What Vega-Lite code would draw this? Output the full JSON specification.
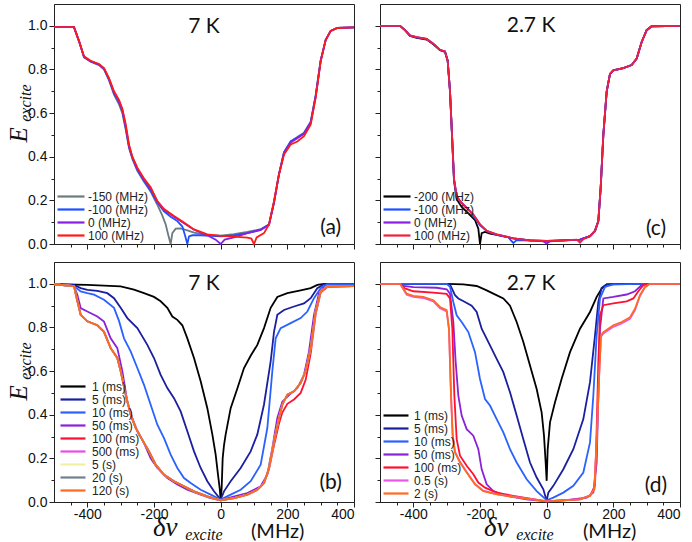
{
"$schema":"https://vega.github.io/schema/vega-lite/v6.json",
"padding":{"left":6,"top":3,"right":8,"bottom":0},
"config":{"view":{"stroke":"#222","strokeWidth":1},"axis":{"tickWidth":1,"domainWidth":1}},
"datasets":{
"a":[
{"s":"-150 (MHz)","x":-500,"y":0.994},{"s":"-150 (MHz)","x":-440,"y":0.994},{"s":"-150 (MHz)","x":-425,"y":0.93},{"s":"-150 (MHz)","x":-410,"y":0.855},{"s":"-150 (MHz)","x":-390,"y":0.835},{"s":"-150 (MHz)","x":-365,"y":0.82},{"s":"-150 (MHz)","x":-350,"y":0.8},{"s":"-150 (MHz)","x":-335,"y":0.75},{"s":"-150 (MHz)","x":-320,"y":0.685},{"s":"-150 (MHz)","x":-305,"y":0.64},{"s":"-150 (MHz)","x":-295,"y":0.6},{"s":"-150 (MHz)","x":-285,"y":0.525},{"s":"-150 (MHz)","x":-275,"y":0.44},{"s":"-150 (MHz)","x":-265,"y":0.39},{"s":"-150 (MHz)","x":-250,"y":0.335},{"s":"-150 (MHz)","x":-230,"y":0.285},{"s":"-150 (MHz)","x":-210,"y":0.24},{"s":"-150 (MHz)","x":-190,"y":0.18},{"s":"-150 (MHz)","x":-175,"y":0.13},{"s":"-150 (MHz)","x":-165,"y":0.09},{"s":"-150 (MHz)","x":-157,"y":0.04},{"s":"-150 (MHz)","x":-150,"y":0.0},{"s":"-150 (MHz)","x":-145,"y":0.05},{"s":"-150 (MHz)","x":-135,"y":0.07},{"s":"-150 (MHz)","x":-120,"y":0.072},{"s":"-150 (MHz)","x":-100,"y":0.062},{"s":"-150 (MHz)","x":-80,"y":0.052},{"s":"-150 (MHz)","x":-40,"y":0.042},{"s":"-150 (MHz)","x":0,"y":0.038},{"s":"-150 (MHz)","x":40,"y":0.045},{"s":"-150 (MHz)","x":80,"y":0.055},{"s":"-150 (MHz)","x":120,"y":0.068},{"s":"-150 (MHz)","x":145,"y":0.09},{"s":"-150 (MHz)","x":160,"y":0.19},{"s":"-150 (MHz)","x":175,"y":0.32},{"s":"-150 (MHz)","x":190,"y":0.42},{"s":"-150 (MHz)","x":210,"y":0.47},{"s":"-150 (MHz)","x":230,"y":0.49},{"s":"-150 (MHz)","x":250,"y":0.51},{"s":"-150 (MHz)","x":270,"y":0.56},{"s":"-150 (MHz)","x":285,"y":0.68},{"s":"-150 (MHz)","x":300,"y":0.84},{"s":"-150 (MHz)","x":315,"y":0.935},{"s":"-150 (MHz)","x":330,"y":0.977},{"s":"-150 (MHz)","x":350,"y":0.99},{"s":"-150 (MHz)","x":400,"y":0.993},
{"s":"-100 (MHz)","x":-500,"y":0.994},{"s":"-100 (MHz)","x":-440,"y":0.994},{"s":"-100 (MHz)","x":-425,"y":0.93},{"s":"-100 (MHz)","x":-410,"y":0.857},{"s":"-100 (MHz)","x":-390,"y":0.837},{"s":"-100 (MHz)","x":-365,"y":0.822},{"s":"-100 (MHz)","x":-350,"y":0.803},{"s":"-100 (MHz)","x":-335,"y":0.755},{"s":"-100 (MHz)","x":-320,"y":0.69},{"s":"-100 (MHz)","x":-305,"y":0.65},{"s":"-100 (MHz)","x":-295,"y":0.61},{"s":"-100 (MHz)","x":-285,"y":0.535},{"s":"-100 (MHz)","x":-275,"y":0.445},{"s":"-100 (MHz)","x":-265,"y":0.395},{"s":"-100 (MHz)","x":-250,"y":0.34},{"s":"-100 (MHz)","x":-230,"y":0.29},{"s":"-100 (MHz)","x":-210,"y":0.245},{"s":"-100 (MHz)","x":-190,"y":0.19},{"s":"-100 (MHz)","x":-170,"y":0.15},{"s":"-100 (MHz)","x":-150,"y":0.125},{"s":"-100 (MHz)","x":-130,"y":0.105},{"s":"-100 (MHz)","x":-115,"y":0.08},{"s":"-100 (MHz)","x":-107,"y":0.04},{"s":"-100 (MHz)","x":-100,"y":0.0},{"s":"-100 (MHz)","x":-95,"y":0.035},{"s":"-100 (MHz)","x":-85,"y":0.04},{"s":"-100 (MHz)","x":-60,"y":0.04},{"s":"-100 (MHz)","x":-30,"y":0.037},{"s":"-100 (MHz)","x":0,"y":0.035},{"s":"-100 (MHz)","x":40,"y":0.04},{"s":"-100 (MHz)","x":80,"y":0.05},{"s":"-100 (MHz)","x":120,"y":0.065},{"s":"-100 (MHz)","x":145,"y":0.088},{"s":"-100 (MHz)","x":160,"y":0.19},{"s":"-100 (MHz)","x":175,"y":0.32},{"s":"-100 (MHz)","x":190,"y":0.42},{"s":"-100 (MHz)","x":210,"y":0.47},{"s":"-100 (MHz)","x":230,"y":0.488},{"s":"-100 (MHz)","x":250,"y":0.508},{"s":"-100 (MHz)","x":270,"y":0.558},{"s":"-100 (MHz)","x":285,"y":0.68},{"s":"-100 (MHz)","x":300,"y":0.84},{"s":"-100 (MHz)","x":315,"y":0.935},{"s":"-100 (MHz)","x":330,"y":0.977},{"s":"-100 (MHz)","x":350,"y":0.99},{"s":"-100 (MHz)","x":400,"y":0.993},
{"s":"0 (MHz)","x":-500,"y":0.994},{"s":"0 (MHz)","x":-440,"y":0.994},{"s":"0 (MHz)","x":-425,"y":0.93},{"s":"0 (MHz)","x":-410,"y":0.858},{"s":"0 (MHz)","x":-390,"y":0.838},{"s":"0 (MHz)","x":-365,"y":0.823},{"s":"0 (MHz)","x":-350,"y":0.804},{"s":"0 (MHz)","x":-335,"y":0.757},{"s":"0 (MHz)","x":-320,"y":0.695},{"s":"0 (MHz)","x":-305,"y":0.655},{"s":"0 (MHz)","x":-295,"y":0.615},{"s":"0 (MHz)","x":-285,"y":0.54},{"s":"0 (MHz)","x":-275,"y":0.45},{"s":"0 (MHz)","x":-265,"y":0.398},{"s":"0 (MHz)","x":-250,"y":0.345},{"s":"0 (MHz)","x":-230,"y":0.295},{"s":"0 (MHz)","x":-210,"y":0.255},{"s":"0 (MHz)","x":-190,"y":0.195},{"s":"0 (MHz)","x":-170,"y":0.158},{"s":"0 (MHz)","x":-140,"y":0.125},{"s":"0 (MHz)","x":-110,"y":0.095},{"s":"0 (MHz)","x":-80,"y":0.065},{"s":"0 (MHz)","x":-40,"y":0.04},{"s":"0 (MHz)","x":-15,"y":0.02},{"s":"0 (MHz)","x":0,"y":0.0},{"s":"0 (MHz)","x":12,"y":0.02},{"s":"0 (MHz)","x":40,"y":0.03},{"s":"0 (MHz)","x":80,"y":0.05},{"s":"0 (MHz)","x":120,"y":0.065},{"s":"0 (MHz)","x":145,"y":0.088},{"s":"0 (MHz)","x":160,"y":0.19},{"s":"0 (MHz)","x":175,"y":0.32},{"s":"0 (MHz)","x":190,"y":0.415},{"s":"0 (MHz)","x":210,"y":0.465},{"s":"0 (MHz)","x":230,"y":0.485},{"s":"0 (MHz)","x":250,"y":0.505},{"s":"0 (MHz)","x":270,"y":0.555},{"s":"0 (MHz)","x":285,"y":0.675},{"s":"0 (MHz)","x":300,"y":0.84},{"s":"0 (MHz)","x":315,"y":0.935},{"s":"0 (MHz)","x":330,"y":0.977},{"s":"0 (MHz)","x":350,"y":0.99},{"s":"0 (MHz)","x":400,"y":0.993},
{"s":"100 (MHz)","x":-500,"y":0.994},{"s":"100 (MHz)","x":-440,"y":0.994},{"s":"100 (MHz)","x":-425,"y":0.93},{"s":"100 (MHz)","x":-410,"y":0.86},{"s":"100 (MHz)","x":-390,"y":0.84},{"s":"100 (MHz)","x":-365,"y":0.825},{"s":"100 (MHz)","x":-350,"y":0.806},{"s":"100 (MHz)","x":-335,"y":0.76},{"s":"100 (MHz)","x":-320,"y":0.7},{"s":"100 (MHz)","x":-305,"y":0.66},{"s":"100 (MHz)","x":-295,"y":0.62},{"s":"100 (MHz)","x":-285,"y":0.55},{"s":"100 (MHz)","x":-275,"y":0.456},{"s":"100 (MHz)","x":-265,"y":0.4},{"s":"100 (MHz)","x":-250,"y":0.35},{"s":"100 (MHz)","x":-230,"y":0.3},{"s":"100 (MHz)","x":-210,"y":0.26},{"s":"100 (MHz)","x":-190,"y":0.197},{"s":"100 (MHz)","x":-170,"y":0.16},{"s":"100 (MHz)","x":-140,"y":0.128},{"s":"100 (MHz)","x":-110,"y":0.098},{"s":"100 (MHz)","x":-80,"y":0.067},{"s":"100 (MHz)","x":-40,"y":0.044},{"s":"100 (MHz)","x":0,"y":0.037},{"s":"100 (MHz)","x":40,"y":0.034},{"s":"100 (MHz)","x":80,"y":0.029},{"s":"100 (MHz)","x":92,"y":0.025},{"s":"100 (MHz)","x":100,"y":0.0},{"s":"100 (MHz)","x":108,"y":0.03},{"s":"100 (MHz)","x":130,"y":0.05},{"s":"100 (MHz)","x":145,"y":0.09},{"s":"100 (MHz)","x":160,"y":0.197},{"s":"100 (MHz)","x":175,"y":0.32},{"s":"100 (MHz)","x":190,"y":0.41},{"s":"100 (MHz)","x":210,"y":0.456},{"s":"100 (MHz)","x":230,"y":0.47},{"s":"100 (MHz)","x":250,"y":0.494},{"s":"100 (MHz)","x":270,"y":0.547},{"s":"100 (MHz)","x":285,"y":0.67},{"s":"100 (MHz)","x":300,"y":0.837},{"s":"100 (MHz)","x":315,"y":0.936},{"s":"100 (MHz)","x":330,"y":0.977},{"s":"100 (MHz)","x":350,"y":0.99},{"s":"100 (MHz)","x":400,"y":0.993}
],
"c":[
{"s":"-200 (MHz)","x":-500,"y":1.0},{"s":"-200 (MHz)","x":-440,"y":1.0},{"s":"-200 (MHz)","x":-425,"y":0.98},{"s":"-200 (MHz)","x":-410,"y":0.954},{"s":"-200 (MHz)","x":-390,"y":0.945},{"s":"-200 (MHz)","x":-360,"y":0.937},{"s":"-200 (MHz)","x":-340,"y":0.915},{"s":"-200 (MHz)","x":-320,"y":0.888},{"s":"-200 (MHz)","x":-305,"y":0.88},{"s":"-200 (MHz)","x":-297,"y":0.84},{"s":"-200 (MHz)","x":-290,"y":0.7},{"s":"-200 (MHz)","x":-284,"y":0.5},{"s":"-200 (MHz)","x":-278,"y":0.29},{"s":"-200 (MHz)","x":-270,"y":0.205},{"s":"-200 (MHz)","x":-255,"y":0.17},{"s":"-200 (MHz)","x":-235,"y":0.14},{"s":"-200 (MHz)","x":-215,"y":0.11},{"s":"-200 (MHz)","x":-205,"y":0.07},{"s":"-200 (MHz)","x":-200,"y":0.0},{"s":"-200 (MHz)","x":-195,"y":0.05},{"s":"-200 (MHz)","x":-185,"y":0.055},{"s":"-200 (MHz)","x":-170,"y":0.048},{"s":"-200 (MHz)","x":-150,"y":0.042},{"s":"-200 (MHz)","x":-100,"y":0.026},{"s":"-200 (MHz)","x":-50,"y":0.017},{"s":"-200 (MHz)","x":0,"y":0.014},{"s":"-200 (MHz)","x":50,"y":0.017},{"s":"-200 (MHz)","x":100,"y":0.02},{"s":"-200 (MHz)","x":130,"y":0.036},{"s":"-200 (MHz)","x":145,"y":0.06},{"s":"-200 (MHz)","x":155,"y":0.105},{"s":"-200 (MHz)","x":162,"y":0.257},{"s":"-200 (MHz)","x":170,"y":0.5},{"s":"-200 (MHz)","x":180,"y":0.698},{"s":"-200 (MHz)","x":190,"y":0.78},{"s":"-200 (MHz)","x":200,"y":0.796},{"s":"-200 (MHz)","x":230,"y":0.806},{"s":"-200 (MHz)","x":255,"y":0.82},{"s":"-200 (MHz)","x":270,"y":0.85},{"s":"-200 (MHz)","x":285,"y":0.926},{"s":"-200 (MHz)","x":300,"y":0.98},{"s":"-200 (MHz)","x":315,"y":0.998},{"s":"-200 (MHz)","x":400,"y":1.0},
{"s":"-100 (MHz)","x":-500,"y":1.0},{"s":"-100 (MHz)","x":-440,"y":1.0},{"s":"-100 (MHz)","x":-425,"y":0.98},{"s":"-100 (MHz)","x":-410,"y":0.955},{"s":"-100 (MHz)","x":-390,"y":0.947},{"s":"-100 (MHz)","x":-360,"y":0.939},{"s":"-100 (MHz)","x":-340,"y":0.917},{"s":"-100 (MHz)","x":-320,"y":0.889},{"s":"-100 (MHz)","x":-305,"y":0.882},{"s":"-100 (MHz)","x":-297,"y":0.84},{"s":"-100 (MHz)","x":-290,"y":0.7},{"s":"-100 (MHz)","x":-284,"y":0.5},{"s":"-100 (MHz)","x":-278,"y":0.295},{"s":"-100 (MHz)","x":-270,"y":0.215},{"s":"-100 (MHz)","x":-250,"y":0.18},{"s":"-100 (MHz)","x":-230,"y":0.15},{"s":"-100 (MHz)","x":-200,"y":0.085},{"s":"-100 (MHz)","x":-175,"y":0.055},{"s":"-100 (MHz)","x":-150,"y":0.042},{"s":"-100 (MHz)","x":-115,"y":0.03},{"s":"-100 (MHz)","x":-100,"y":0.005},{"s":"-100 (MHz)","x":-90,"y":0.018},{"s":"-100 (MHz)","x":-50,"y":0.016},{"s":"-100 (MHz)","x":0,"y":0.013},{"s":"-100 (MHz)","x":50,"y":0.016},{"s":"-100 (MHz)","x":100,"y":0.02},{"s":"-100 (MHz)","x":130,"y":0.036},{"s":"-100 (MHz)","x":145,"y":0.06},{"s":"-100 (MHz)","x":155,"y":0.105},{"s":"-100 (MHz)","x":162,"y":0.257},{"s":"-100 (MHz)","x":170,"y":0.5},{"s":"-100 (MHz)","x":180,"y":0.698},{"s":"-100 (MHz)","x":190,"y":0.78},{"s":"-100 (MHz)","x":200,"y":0.796},{"s":"-100 (MHz)","x":230,"y":0.806},{"s":"-100 (MHz)","x":255,"y":0.82},{"s":"-100 (MHz)","x":270,"y":0.85},{"s":"-100 (MHz)","x":285,"y":0.926},{"s":"-100 (MHz)","x":300,"y":0.98},{"s":"-100 (MHz)","x":315,"y":0.998},{"s":"-100 (MHz)","x":400,"y":1.0},
{"s":"0 (MHz)","x":-500,"y":1.0},{"s":"0 (MHz)","x":-440,"y":1.0},{"s":"0 (MHz)","x":-425,"y":0.98},{"s":"0 (MHz)","x":-410,"y":0.956},{"s":"0 (MHz)","x":-390,"y":0.948},{"s":"0 (MHz)","x":-360,"y":0.94},{"s":"0 (MHz)","x":-340,"y":0.918},{"s":"0 (MHz)","x":-320,"y":0.89},{"s":"0 (MHz)","x":-305,"y":0.883},{"s":"0 (MHz)","x":-297,"y":0.84},{"s":"0 (MHz)","x":-290,"y":0.7},{"s":"0 (MHz)","x":-284,"y":0.5},{"s":"0 (MHz)","x":-278,"y":0.3},{"s":"0 (MHz)","x":-270,"y":0.22},{"s":"0 (MHz)","x":-260,"y":0.196},{"s":"0 (MHz)","x":-240,"y":0.166},{"s":"0 (MHz)","x":-220,"y":0.135},{"s":"0 (MHz)","x":-200,"y":0.09},{"s":"0 (MHz)","x":-180,"y":0.06},{"s":"0 (MHz)","x":-150,"y":0.044},{"s":"0 (MHz)","x":-100,"y":0.026},{"s":"0 (MHz)","x":-50,"y":0.017},{"s":"0 (MHz)","x":-10,"y":0.012},{"s":"0 (MHz)","x":0,"y":0.003},{"s":"0 (MHz)","x":10,"y":0.012},{"s":"0 (MHz)","x":50,"y":0.017},{"s":"0 (MHz)","x":100,"y":0.02},{"s":"0 (MHz)","x":130,"y":0.036},{"s":"0 (MHz)","x":145,"y":0.06},{"s":"0 (MHz)","x":155,"y":0.105},{"s":"0 (MHz)","x":162,"y":0.257},{"s":"0 (MHz)","x":170,"y":0.5},{"s":"0 (MHz)","x":180,"y":0.698},{"s":"0 (MHz)","x":190,"y":0.78},{"s":"0 (MHz)","x":200,"y":0.796},{"s":"0 (MHz)","x":230,"y":0.806},{"s":"0 (MHz)","x":255,"y":0.82},{"s":"0 (MHz)","x":270,"y":0.85},{"s":"0 (MHz)","x":285,"y":0.926},{"s":"0 (MHz)","x":300,"y":0.98},{"s":"0 (MHz)","x":315,"y":0.998},{"s":"0 (MHz)","x":400,"y":1.0},
{"s":"100 (MHz)","x":-500,"y":1.0},{"s":"100 (MHz)","x":-440,"y":1.0},{"s":"100 (MHz)","x":-425,"y":0.98},{"s":"100 (MHz)","x":-410,"y":0.956},{"s":"100 (MHz)","x":-390,"y":0.948},{"s":"100 (MHz)","x":-360,"y":0.94},{"s":"100 (MHz)","x":-340,"y":0.918},{"s":"100 (MHz)","x":-320,"y":0.89},{"s":"100 (MHz)","x":-305,"y":0.883},{"s":"100 (MHz)","x":-297,"y":0.84},{"s":"100 (MHz)","x":-290,"y":0.7},{"s":"100 (MHz)","x":-284,"y":0.5},{"s":"100 (MHz)","x":-278,"y":0.3},{"s":"100 (MHz)","x":-270,"y":0.22},{"s":"100 (MHz)","x":-260,"y":0.196},{"s":"100 (MHz)","x":-240,"y":0.166},{"s":"100 (MHz)","x":-220,"y":0.135},{"s":"100 (MHz)","x":-200,"y":0.09},{"s":"100 (MHz)","x":-180,"y":0.06},{"s":"100 (MHz)","x":-150,"y":0.044},{"s":"100 (MHz)","x":-100,"y":0.026},{"s":"100 (MHz)","x":-50,"y":0.017},{"s":"100 (MHz)","x":0,"y":0.014},{"s":"100 (MHz)","x":50,"y":0.017},{"s":"100 (MHz)","x":90,"y":0.02},{"s":"100 (MHz)","x":100,"y":0.006},{"s":"100 (MHz)","x":110,"y":0.022},{"s":"100 (MHz)","x":130,"y":0.036},{"s":"100 (MHz)","x":145,"y":0.06},{"s":"100 (MHz)","x":155,"y":0.105},{"s":"100 (MHz)","x":162,"y":0.257},{"s":"100 (MHz)","x":170,"y":0.5},{"s":"100 (MHz)","x":180,"y":0.698},{"s":"100 (MHz)","x":190,"y":0.78},{"s":"100 (MHz)","x":200,"y":0.796},{"s":"100 (MHz)","x":230,"y":0.806},{"s":"100 (MHz)","x":255,"y":0.82},{"s":"100 (MHz)","x":270,"y":0.85},{"s":"100 (MHz)","x":285,"y":0.926},{"s":"100 (MHz)","x":300,"y":0.98},{"s":"100 (MHz)","x":315,"y":0.998},{"s":"100 (MHz)","x":400,"y":1.0}
],
"b":[
{"s":"1 (ms)","x":-500,"y":0.998},{"s":"1 (ms)","x":-400,"y":0.995},{"s":"1 (ms)","x":-350,"y":0.992},{"s":"1 (ms)","x":-300,"y":0.988},{"s":"1 (ms)","x":-260,"y":0.973},{"s":"1 (ms)","x":-230,"y":0.957},{"s":"1 (ms)","x":-200,"y":0.94},{"s":"1 (ms)","x":-180,"y":0.92},{"s":"1 (ms)","x":-160,"y":0.89},{"s":"1 (ms)","x":-145,"y":0.85},{"s":"1 (ms)","x":-130,"y":0.835},{"s":"1 (ms)","x":-115,"y":0.81},{"s":"1 (ms)","x":-100,"y":0.75},{"s":"1 (ms)","x":-80,"y":0.66},{"s":"1 (ms)","x":-60,"y":0.553},{"s":"1 (ms)","x":-40,"y":0.43},{"s":"1 (ms)","x":-25,"y":0.31},{"s":"1 (ms)","x":-15,"y":0.217},{"s":"1 (ms)","x":-8,"y":0.125},{"s":"1 (ms)","x":-3,"y":0.064},{"s":"1 (ms)","x":0,"y":0.01},{"s":"1 (ms)","x":3,"y":0.064},{"s":"1 (ms)","x":6,"y":0.2},{"s":"1 (ms)","x":10,"y":0.26},{"s":"1 (ms)","x":15,"y":0.31},{"s":"1 (ms)","x":30,"y":0.43},{"s":"1 (ms)","x":50,"y":0.52},{"s":"1 (ms)","x":70,"y":0.614},{"s":"1 (ms)","x":90,"y":0.67},{"s":"1 (ms)","x":110,"y":0.72},{"s":"1 (ms)","x":130,"y":0.797},{"s":"1 (ms)","x":150,"y":0.89},{"s":"1 (ms)","x":170,"y":0.94},{"s":"1 (ms)","x":200,"y":0.957},{"s":"1 (ms)","x":240,"y":0.97},{"s":"1 (ms)","x":270,"y":0.98},{"s":"1 (ms)","x":290,"y":0.995},{"s":"1 (ms)","x":310,"y":1.0},{"s":"1 (ms)","x":400,"y":1.0},
{"s":"5 (ms)","x":-500,"y":0.998},{"s":"5 (ms)","x":-440,"y":0.995},{"s":"5 (ms)","x":-420,"y":0.98},{"s":"5 (ms)","x":-400,"y":0.972},{"s":"5 (ms)","x":-370,"y":0.968},{"s":"5 (ms)","x":-340,"y":0.957},{"s":"5 (ms)","x":-320,"y":0.934},{"s":"5 (ms)","x":-300,"y":0.89},{"s":"5 (ms)","x":-280,"y":0.843},{"s":"5 (ms)","x":-250,"y":0.797},{"s":"5 (ms)","x":-220,"y":0.72},{"s":"5 (ms)","x":-200,"y":0.66},{"s":"5 (ms)","x":-180,"y":0.583},{"s":"5 (ms)","x":-160,"y":0.522},{"s":"5 (ms)","x":-140,"y":0.476},{"s":"5 (ms)","x":-120,"y":0.415},{"s":"5 (ms)","x":-100,"y":0.324},{"s":"5 (ms)","x":-80,"y":0.232},{"s":"5 (ms)","x":-60,"y":0.156},{"s":"5 (ms)","x":-40,"y":0.095},{"s":"5 (ms)","x":-20,"y":0.049},{"s":"5 (ms)","x":0,"y":0.011},{"s":"5 (ms)","x":10,"y":0.049},{"s":"5 (ms)","x":30,"y":0.095},{"s":"5 (ms)","x":60,"y":0.156},{"s":"5 (ms)","x":90,"y":0.232},{"s":"5 (ms)","x":110,"y":0.31},{"s":"5 (ms)","x":130,"y":0.447},{"s":"5 (ms)","x":150,"y":0.644},{"s":"5 (ms)","x":160,"y":0.78},{"s":"5 (ms)","x":170,"y":0.858},{"s":"5 (ms)","x":190,"y":0.88},{"s":"5 (ms)","x":220,"y":0.896},{"s":"5 (ms)","x":250,"y":0.91},{"s":"5 (ms)","x":270,"y":0.934},{"s":"5 (ms)","x":290,"y":0.98},{"s":"5 (ms)","x":310,"y":0.998},{"s":"5 (ms)","x":400,"y":0.998},
{"s":"10 (ms)","x":-500,"y":0.998},{"s":"10 (ms)","x":-440,"y":0.99},{"s":"10 (ms)","x":-420,"y":0.965},{"s":"10 (ms)","x":-400,"y":0.957},{"s":"10 (ms)","x":-380,"y":0.95},{"s":"10 (ms)","x":-350,"y":0.927},{"s":"10 (ms)","x":-320,"y":0.89},{"s":"10 (ms)","x":-305,"y":0.83},{"s":"10 (ms)","x":-290,"y":0.75},{"s":"10 (ms)","x":-270,"y":0.69},{"s":"10 (ms)","x":-250,"y":0.614},{"s":"10 (ms)","x":-230,"y":0.537},{"s":"10 (ms)","x":-210,"y":0.446},{"s":"10 (ms)","x":-190,"y":0.354},{"s":"10 (ms)","x":-170,"y":0.293},{"s":"10 (ms)","x":-150,"y":0.217},{"s":"10 (ms)","x":-130,"y":0.156},{"s":"10 (ms)","x":-110,"y":0.11},{"s":"10 (ms)","x":-90,"y":0.087},{"s":"10 (ms)","x":-60,"y":0.056},{"s":"10 (ms)","x":-30,"y":0.034},{"s":"10 (ms)","x":0,"y":0.011},{"s":"10 (ms)","x":30,"y":0.034},{"s":"10 (ms)","x":60,"y":0.056},{"s":"10 (ms)","x":90,"y":0.095},{"s":"10 (ms)","x":120,"y":0.171},{"s":"10 (ms)","x":140,"y":0.339},{"s":"10 (ms)","x":155,"y":0.6},{"s":"10 (ms)","x":165,"y":0.75},{"s":"10 (ms)","x":180,"y":0.797},{"s":"10 (ms)","x":210,"y":0.82},{"s":"10 (ms)","x":240,"y":0.843},{"s":"10 (ms)","x":260,"y":0.873},{"s":"10 (ms)","x":280,"y":0.934},{"s":"10 (ms)","x":300,"y":0.98},{"s":"10 (ms)","x":320,"y":0.998},{"s":"10 (ms)","x":400,"y":0.998},
{"s":"50 (ms)","x":-500,"y":0.998},{"s":"50 (ms)","x":-440,"y":0.99},{"s":"50 (ms)","x":-430,"y":0.95},{"s":"50 (ms)","x":-420,"y":0.889},{"s":"50 (ms)","x":-400,"y":0.873},{"s":"50 (ms)","x":-370,"y":0.85},{"s":"50 (ms)","x":-350,"y":0.827},{"s":"50 (ms)","x":-330,"y":0.75},{"s":"50 (ms)","x":-310,"y":0.705},{"s":"50 (ms)","x":-295,"y":0.6},{"s":"50 (ms)","x":-280,"y":0.46},{"s":"50 (ms)","x":-265,"y":0.385},{"s":"50 (ms)","x":-250,"y":0.324},{"s":"50 (ms)","x":-230,"y":0.27},{"s":"50 (ms)","x":-210,"y":0.2},{"s":"50 (ms)","x":-190,"y":0.156},{"s":"50 (ms)","x":-160,"y":0.11},{"s":"50 (ms)","x":-130,"y":0.08},{"s":"50 (ms)","x":-100,"y":0.056},{"s":"50 (ms)","x":-60,"y":0.034},{"s":"50 (ms)","x":-30,"y":0.018},{"s":"50 (ms)","x":0,"y":0.008},{"s":"50 (ms)","x":30,"y":0.021},{"s":"50 (ms)","x":80,"y":0.041},{"s":"50 (ms)","x":120,"y":0.072},{"s":"50 (ms)","x":140,"y":0.125},{"s":"50 (ms)","x":155,"y":0.247},{"s":"50 (ms)","x":170,"y":0.385},{"s":"50 (ms)","x":185,"y":0.46},{"s":"50 (ms)","x":205,"y":0.49},{"s":"50 (ms)","x":230,"y":0.522},{"s":"50 (ms)","x":250,"y":0.583},{"s":"50 (ms)","x":265,"y":0.69},{"s":"50 (ms)","x":280,"y":0.858},{"s":"50 (ms)","x":295,"y":0.957},{"s":"50 (ms)","x":310,"y":0.982},{"s":"50 (ms)","x":330,"y":0.988},{"s":"50 (ms)","x":400,"y":0.99},
{"s":"100 (ms)","x":-500,"y":0.998},{"s":"100 (ms)","x":-440,"y":0.99},{"s":"100 (ms)","x":-432,"y":0.935},{"s":"100 (ms)","x":-420,"y":0.858},{"s":"100 (ms)","x":-400,"y":0.828},{"s":"100 (ms)","x":-370,"y":0.81},{"s":"100 (ms)","x":-350,"y":0.78},{"s":"100 (ms)","x":-330,"y":0.705},{"s":"100 (ms)","x":-310,"y":0.66},{"s":"100 (ms)","x":-300,"y":0.6},{"s":"100 (ms)","x":-285,"y":0.492},{"s":"100 (ms)","x":-270,"y":0.4},{"s":"100 (ms)","x":-255,"y":0.34},{"s":"100 (ms)","x":-235,"y":0.285},{"s":"100 (ms)","x":-215,"y":0.232},{"s":"100 (ms)","x":-195,"y":0.171},{"s":"100 (ms)","x":-170,"y":0.125},{"s":"100 (ms)","x":-140,"y":0.095},{"s":"100 (ms)","x":-110,"y":0.072},{"s":"100 (ms)","x":-80,"y":0.049},{"s":"100 (ms)","x":-40,"y":0.026},{"s":"100 (ms)","x":0,"y":0.008},{"s":"100 (ms)","x":40,"y":0.018},{"s":"100 (ms)","x":80,"y":0.034},{"s":"100 (ms)","x":110,"y":0.056},{"s":"100 (ms)","x":130,"y":0.087},{"s":"100 (ms)","x":145,"y":0.15},{"s":"100 (ms)","x":160,"y":0.26},{"s":"100 (ms)","x":175,"y":0.36},{"s":"100 (ms)","x":185,"y":0.41},{"s":"100 (ms)","x":200,"y":0.45},{"s":"100 (ms)","x":220,"y":0.47},{"s":"100 (ms)","x":240,"y":0.5},{"s":"100 (ms)","x":255,"y":0.56},{"s":"100 (ms)","x":270,"y":0.68},{"s":"100 (ms)","x":285,"y":0.86},{"s":"100 (ms)","x":300,"y":0.96},{"s":"100 (ms)","x":320,"y":0.985},{"s":"100 (ms)","x":400,"y":0.99},
{"s":"500 (ms)","x":-500,"y":0.998},{"s":"500 (ms)","x":-440,"y":0.99},{"s":"500 (ms)","x":-432,"y":0.935},{"s":"500 (ms)","x":-420,"y":0.858},{"s":"500 (ms)","x":-400,"y":0.828},{"s":"500 (ms)","x":-370,"y":0.81},{"s":"500 (ms)","x":-350,"y":0.78},{"s":"500 (ms)","x":-330,"y":0.705},{"s":"500 (ms)","x":-310,"y":0.66},{"s":"500 (ms)","x":-300,"y":0.6},{"s":"500 (ms)","x":-285,"y":0.492},{"s":"500 (ms)","x":-270,"y":0.4},{"s":"500 (ms)","x":-255,"y":0.34},{"s":"500 (ms)","x":-235,"y":0.285},{"s":"500 (ms)","x":-215,"y":0.232},{"s":"500 (ms)","x":-195,"y":0.171},{"s":"500 (ms)","x":-170,"y":0.125},{"s":"500 (ms)","x":-140,"y":0.095},{"s":"500 (ms)","x":-110,"y":0.072},{"s":"500 (ms)","x":-80,"y":0.049},{"s":"500 (ms)","x":-40,"y":0.026},{"s":"500 (ms)","x":0,"y":0.008},{"s":"500 (ms)","x":40,"y":0.018},{"s":"500 (ms)","x":80,"y":0.034},{"s":"500 (ms)","x":110,"y":0.056},{"s":"500 (ms)","x":130,"y":0.087},{"s":"500 (ms)","x":145,"y":0.156},{"s":"500 (ms)","x":160,"y":0.278},{"s":"500 (ms)","x":175,"y":0.385},{"s":"500 (ms)","x":185,"y":0.446},{"s":"500 (ms)","x":200,"y":0.492},{"s":"500 (ms)","x":220,"y":0.507},{"s":"500 (ms)","x":240,"y":0.545},{"s":"500 (ms)","x":255,"y":0.6},{"s":"500 (ms)","x":270,"y":0.705},{"s":"500 (ms)","x":285,"y":0.873},{"s":"500 (ms)","x":300,"y":0.965},{"s":"500 (ms)","x":320,"y":0.988},{"s":"500 (ms)","x":400,"y":0.99},
{"s":"5 (s)","x":-500,"y":0.998},{"s":"5 (s)","x":-440,"y":0.99},{"s":"5 (s)","x":-432,"y":0.935},{"s":"5 (s)","x":-420,"y":0.858},{"s":"5 (s)","x":-400,"y":0.828},{"s":"5 (s)","x":-370,"y":0.81},{"s":"5 (s)","x":-350,"y":0.78},{"s":"5 (s)","x":-330,"y":0.705},{"s":"5 (s)","x":-310,"y":0.66},{"s":"5 (s)","x":-300,"y":0.6},{"s":"5 (s)","x":-285,"y":0.492},{"s":"5 (s)","x":-270,"y":0.4},{"s":"5 (s)","x":-255,"y":0.34},{"s":"5 (s)","x":-235,"y":0.285},{"s":"5 (s)","x":-215,"y":0.232},{"s":"5 (s)","x":-195,"y":0.171},{"s":"5 (s)","x":-170,"y":0.125},{"s":"5 (s)","x":-140,"y":0.095},{"s":"5 (s)","x":-110,"y":0.072},{"s":"5 (s)","x":-80,"y":0.049},{"s":"5 (s)","x":-40,"y":0.026},{"s":"5 (s)","x":0,"y":0.008},{"s":"5 (s)","x":40,"y":0.018},{"s":"5 (s)","x":80,"y":0.034},{"s":"5 (s)","x":110,"y":0.056},{"s":"5 (s)","x":130,"y":0.087},{"s":"5 (s)","x":145,"y":0.156},{"s":"5 (s)","x":160,"y":0.278},{"s":"5 (s)","x":175,"y":0.385},{"s":"5 (s)","x":185,"y":0.446},{"s":"5 (s)","x":200,"y":0.492},{"s":"5 (s)","x":220,"y":0.507},{"s":"5 (s)","x":240,"y":0.545},{"s":"5 (s)","x":255,"y":0.6},{"s":"5 (s)","x":270,"y":0.705},{"s":"5 (s)","x":285,"y":0.873},{"s":"5 (s)","x":300,"y":0.965},{"s":"5 (s)","x":320,"y":0.988},{"s":"5 (s)","x":400,"y":0.99},
{"s":"20 (s)","x":-500,"y":0.998},{"s":"20 (s)","x":-440,"y":0.99},{"s":"20 (s)","x":-432,"y":0.935},{"s":"20 (s)","x":-420,"y":0.858},{"s":"20 (s)","x":-400,"y":0.828},{"s":"20 (s)","x":-370,"y":0.81},{"s":"20 (s)","x":-350,"y":0.78},{"s":"20 (s)","x":-330,"y":0.705},{"s":"20 (s)","x":-310,"y":0.66},{"s":"20 (s)","x":-300,"y":0.6},{"s":"20 (s)","x":-285,"y":0.492},{"s":"20 (s)","x":-270,"y":0.4},{"s":"20 (s)","x":-255,"y":0.34},{"s":"20 (s)","x":-235,"y":0.285},{"s":"20 (s)","x":-215,"y":0.232},{"s":"20 (s)","x":-195,"y":0.171},{"s":"20 (s)","x":-170,"y":0.125},{"s":"20 (s)","x":-140,"y":0.095},{"s":"20 (s)","x":-110,"y":0.072},{"s":"20 (s)","x":-80,"y":0.049},{"s":"20 (s)","x":-40,"y":0.026},{"s":"20 (s)","x":0,"y":0.008},{"s":"20 (s)","x":40,"y":0.018},{"s":"20 (s)","x":80,"y":0.034},{"s":"20 (s)","x":110,"y":0.056},{"s":"20 (s)","x":130,"y":0.087},{"s":"20 (s)","x":145,"y":0.156},{"s":"20 (s)","x":160,"y":0.278},{"s":"20 (s)","x":175,"y":0.385},{"s":"20 (s)","x":185,"y":0.446},{"s":"20 (s)","x":200,"y":0.492},{"s":"20 (s)","x":220,"y":0.507},{"s":"20 (s)","x":240,"y":0.545},{"s":"20 (s)","x":255,"y":0.6},{"s":"20 (s)","x":270,"y":0.705},{"s":"20 (s)","x":285,"y":0.873},{"s":"20 (s)","x":300,"y":0.965},{"s":"20 (s)","x":320,"y":0.988},{"s":"20 (s)","x":400,"y":0.99},
{"s":"120 (s)","x":-500,"y":0.998},{"s":"120 (s)","x":-440,"y":0.99},{"s":"120 (s)","x":-432,"y":0.935},{"s":"120 (s)","x":-420,"y":0.858},{"s":"120 (s)","x":-400,"y":0.828},{"s":"120 (s)","x":-370,"y":0.81},{"s":"120 (s)","x":-350,"y":0.78},{"s":"120 (s)","x":-330,"y":0.705},{"s":"120 (s)","x":-310,"y":0.66},{"s":"120 (s)","x":-300,"y":0.6},{"s":"120 (s)","x":-285,"y":0.492},{"s":"120 (s)","x":-270,"y":0.4},{"s":"120 (s)","x":-255,"y":0.34},{"s":"120 (s)","x":-235,"y":0.285},{"s":"120 (s)","x":-215,"y":0.232},{"s":"120 (s)","x":-195,"y":0.171},{"s":"120 (s)","x":-170,"y":0.125},{"s":"120 (s)","x":-140,"y":0.095},{"s":"120 (s)","x":-110,"y":0.072},{"s":"120 (s)","x":-80,"y":0.049},{"s":"120 (s)","x":-40,"y":0.026},{"s":"120 (s)","x":0,"y":0.008},{"s":"120 (s)","x":40,"y":0.018},{"s":"120 (s)","x":80,"y":0.034},{"s":"120 (s)","x":110,"y":0.056},{"s":"120 (s)","x":130,"y":0.087},{"s":"120 (s)","x":145,"y":0.156},{"s":"120 (s)","x":160,"y":0.278},{"s":"120 (s)","x":175,"y":0.385},{"s":"120 (s)","x":185,"y":0.446},{"s":"120 (s)","x":200,"y":0.492},{"s":"120 (s)","x":220,"y":0.507},{"s":"120 (s)","x":240,"y":0.545},{"s":"120 (s)","x":255,"y":0.6},{"s":"120 (s)","x":270,"y":0.705},{"s":"120 (s)","x":285,"y":0.873},{"s":"120 (s)","x":300,"y":0.965},{"s":"120 (s)","x":320,"y":0.988},{"s":"120 (s)","x":400,"y":0.99}
],
"d":[
{"s":"1 (ms)","x":-500,"y":1.0},{"s":"1 (ms)","x":-300,"y":1.0},{"s":"1 (ms)","x":-250,"y":0.997},{"s":"1 (ms)","x":-210,"y":0.99},{"s":"1 (ms)","x":-180,"y":0.97},{"s":"1 (ms)","x":-160,"y":0.955},{"s":"1 (ms)","x":-130,"y":0.933},{"s":"1 (ms)","x":-110,"y":0.9},{"s":"1 (ms)","x":-90,"y":0.825},{"s":"1 (ms)","x":-70,"y":0.733},{"s":"1 (ms)","x":-50,"y":0.626},{"s":"1 (ms)","x":-30,"y":0.518},{"s":"1 (ms)","x":-15,"y":0.41},{"s":"1 (ms)","x":-8,"y":0.304},{"s":"1 (ms)","x":-3,"y":0.18},{"s":"1 (ms)","x":0,"y":0.097},{"s":"1 (ms)","x":3,"y":0.24},{"s":"1 (ms)","x":10,"y":0.365},{"s":"1 (ms)","x":25,"y":0.457},{"s":"1 (ms)","x":45,"y":0.565},{"s":"1 (ms)","x":70,"y":0.687},{"s":"1 (ms)","x":100,"y":0.794},{"s":"1 (ms)","x":130,"y":0.871},{"s":"1 (ms)","x":150,"y":0.94},{"s":"1 (ms)","x":165,"y":0.978},{"s":"1 (ms)","x":180,"y":0.997},{"s":"1 (ms)","x":220,"y":1.0},{"s":"1 (ms)","x":400,"y":1.0},
{"s":"5 (ms)","x":-500,"y":1.0},{"s":"5 (ms)","x":-300,"y":1.0},{"s":"5 (ms)","x":-290,"y":0.997},{"s":"5 (ms)","x":-275,"y":0.948},{"s":"5 (ms)","x":-265,"y":0.933},{"s":"5 (ms)","x":-245,"y":0.917},{"s":"5 (ms)","x":-225,"y":0.9},{"s":"5 (ms)","x":-210,"y":0.871},{"s":"5 (ms)","x":-195,"y":0.794},{"s":"5 (ms)","x":-170,"y":0.718},{"s":"5 (ms)","x":-150,"y":0.656},{"s":"5 (ms)","x":-130,"y":0.595},{"s":"5 (ms)","x":-110,"y":0.503},{"s":"5 (ms)","x":-90,"y":0.396},{"s":"5 (ms)","x":-70,"y":0.288},{"s":"5 (ms)","x":-50,"y":0.181},{"s":"5 (ms)","x":-30,"y":0.112},{"s":"5 (ms)","x":-10,"y":0.058},{"s":"5 (ms)","x":0,"y":0.005},{"s":"5 (ms)","x":5,"y":0.043},{"s":"5 (ms)","x":20,"y":0.074},{"s":"5 (ms)","x":50,"y":0.15},{"s":"5 (ms)","x":80,"y":0.242},{"s":"5 (ms)","x":110,"y":0.38},{"s":"5 (ms)","x":130,"y":0.549},{"s":"5 (ms)","x":145,"y":0.764},{"s":"5 (ms)","x":155,"y":0.917},{"s":"5 (ms)","x":165,"y":0.982},{"s":"5 (ms)","x":180,"y":0.997},{"s":"5 (ms)","x":300,"y":1.0},{"s":"5 (ms)","x":400,"y":1.0},
{"s":"10 (ms)","x":-500,"y":1.0},{"s":"10 (ms)","x":-300,"y":1.0},{"s":"10 (ms)","x":-290,"y":0.986},{"s":"10 (ms)","x":-280,"y":0.917},{"s":"10 (ms)","x":-270,"y":0.856},{"s":"10 (ms)","x":-255,"y":0.825},{"s":"10 (ms)","x":-235,"y":0.779},{"s":"10 (ms)","x":-215,"y":0.687},{"s":"10 (ms)","x":-200,"y":0.564},{"s":"10 (ms)","x":-185,"y":0.472},{"s":"10 (ms)","x":-170,"y":0.442},{"s":"10 (ms)","x":-150,"y":0.38},{"s":"10 (ms)","x":-130,"y":0.319},{"s":"10 (ms)","x":-110,"y":0.242},{"s":"10 (ms)","x":-90,"y":0.181},{"s":"10 (ms)","x":-60,"y":0.104},{"s":"10 (ms)","x":-30,"y":0.05},{"s":"10 (ms)","x":0,"y":0.008},{"s":"10 (ms)","x":20,"y":0.02},{"s":"10 (ms)","x":50,"y":0.043},{"s":"10 (ms)","x":80,"y":0.074},{"s":"10 (ms)","x":110,"y":0.135},{"s":"10 (ms)","x":130,"y":0.273},{"s":"10 (ms)","x":140,"y":0.488},{"s":"10 (ms)","x":150,"y":0.764},{"s":"10 (ms)","x":160,"y":0.933},{"s":"10 (ms)","x":175,"y":0.986},{"s":"10 (ms)","x":200,"y":0.997},{"s":"10 (ms)","x":300,"y":1.0},{"s":"10 (ms)","x":400,"y":1.0},
{"s":"50 (ms)","x":-500,"y":1.0},{"s":"50 (ms)","x":-440,"y":1.0},{"s":"50 (ms)","x":-430,"y":0.99},{"s":"50 (ms)","x":-400,"y":0.985},{"s":"50 (ms)","x":-330,"y":0.982},{"s":"50 (ms)","x":-300,"y":0.975},{"s":"50 (ms)","x":-290,"y":0.955},{"s":"50 (ms)","x":-280,"y":0.825},{"s":"50 (ms)","x":-273,"y":0.641},{"s":"50 (ms)","x":-265,"y":0.488},{"s":"50 (ms)","x":-255,"y":0.396},{"s":"50 (ms)","x":-240,"y":0.334},{"s":"50 (ms)","x":-220,"y":0.304},{"s":"50 (ms)","x":-205,"y":0.242},{"s":"50 (ms)","x":-195,"y":0.15},{"s":"50 (ms)","x":-180,"y":0.081},{"s":"50 (ms)","x":-160,"y":0.05},{"s":"50 (ms)","x":-120,"y":0.028},{"s":"50 (ms)","x":-60,"y":0.012},{"s":"50 (ms)","x":0,"y":0.003},{"s":"50 (ms)","x":60,"y":0.009},{"s":"50 (ms)","x":120,"y":0.02},{"s":"50 (ms)","x":140,"y":0.043},{"s":"50 (ms)","x":150,"y":0.181},{"s":"50 (ms)","x":155,"y":0.488},{"s":"50 (ms)","x":160,"y":0.794},{"s":"50 (ms)","x":170,"y":0.933},{"s":"50 (ms)","x":200,"y":0.94},{"s":"50 (ms)","x":240,"y":0.951},{"s":"50 (ms)","x":265,"y":0.966},{"s":"50 (ms)","x":285,"y":0.994},{"s":"50 (ms)","x":300,"y":1.0},{"s":"50 (ms)","x":400,"y":1.0},
{"s":"100 (ms)","x":-500,"y":1.0},{"s":"100 (ms)","x":-440,"y":1.0},{"s":"100 (ms)","x":-425,"y":0.979},{"s":"100 (ms)","x":-400,"y":0.966},{"s":"100 (ms)","x":-340,"y":0.96},{"s":"100 (ms)","x":-300,"y":0.954},{"s":"100 (ms)","x":-290,"y":0.933},{"s":"100 (ms)","x":-283,"y":0.794},{"s":"100 (ms)","x":-277,"y":0.488},{"s":"100 (ms)","x":-270,"y":0.288},{"s":"100 (ms)","x":-260,"y":0.212},{"s":"100 (ms)","x":-240,"y":0.166},{"s":"100 (ms)","x":-220,"y":0.127},{"s":"100 (ms)","x":-205,"y":0.089},{"s":"100 (ms)","x":-185,"y":0.066},{"s":"100 (ms)","x":-150,"y":0.043},{"s":"100 (ms)","x":-100,"y":0.028},{"s":"100 (ms)","x":0,"y":0.003},{"s":"100 (ms)","x":100,"y":0.012},{"s":"100 (ms)","x":130,"y":0.028},{"s":"100 (ms)","x":145,"y":0.074},{"s":"100 (ms)","x":150,"y":0.334},{"s":"100 (ms)","x":155,"y":0.641},{"s":"100 (ms)","x":160,"y":0.856},{"s":"100 (ms)","x":170,"y":0.902},{"s":"100 (ms)","x":200,"y":0.91},{"s":"100 (ms)","x":240,"y":0.92},{"s":"100 (ms)","x":260,"y":0.933},{"s":"100 (ms)","x":275,"y":0.966},{"s":"100 (ms)","x":290,"y":0.994},{"s":"100 (ms)","x":310,"y":1.0},{"s":"100 (ms)","x":400,"y":1.0},
{"s":"0.5 (s)","x":-500,"y":1.0},{"s":"0.5 (s)","x":-440,"y":1.0},{"s":"0.5 (s)","x":-430,"y":0.975},{"s":"0.5 (s)","x":-420,"y":0.95},{"s":"0.5 (s)","x":-400,"y":0.94},{"s":"0.5 (s)","x":-370,"y":0.935},{"s":"0.5 (s)","x":-340,"y":0.92},{"s":"0.5 (s)","x":-320,"y":0.888},{"s":"0.5 (s)","x":-300,"y":0.873},{"s":"0.5 (s)","x":-293,"y":0.79},{"s":"0.5 (s)","x":-287,"y":0.49},{"s":"0.5 (s)","x":-282,"y":0.31},{"s":"0.5 (s)","x":-275,"y":0.23},{"s":"0.5 (s)","x":-260,"y":0.184},{"s":"0.5 (s)","x":-240,"y":0.138},{"s":"0.5 (s)","x":-215,"y":0.083},{"s":"0.5 (s)","x":-190,"y":0.052},{"s":"0.5 (s)","x":-150,"y":0.036},{"s":"0.5 (s)","x":-100,"y":0.024},{"s":"0.5 (s)","x":0,"y":0.004},{"s":"0.5 (s)","x":100,"y":0.013},{"s":"0.5 (s)","x":130,"y":0.03},{"s":"0.5 (s)","x":143,"y":0.06},{"s":"0.5 (s)","x":150,"y":0.28},{"s":"0.5 (s)","x":157,"y":0.57},{"s":"0.5 (s)","x":163,"y":0.757},{"s":"0.5 (s)","x":170,"y":0.772},{"s":"0.5 (s)","x":200,"y":0.803},{"s":"0.5 (s)","x":225,"y":0.818},{"s":"0.5 (s)","x":250,"y":0.84},{"s":"0.5 (s)","x":265,"y":0.88},{"s":"0.5 (s)","x":280,"y":0.945},{"s":"0.5 (s)","x":295,"y":0.984},{"s":"0.5 (s)","x":310,"y":1.0},{"s":"0.5 (s)","x":400,"y":1.0},
{"s":"2 (s)","x":-500,"y":1.0},{"s":"2 (s)","x":-440,"y":1.0},{"s":"2 (s)","x":-430,"y":0.979},{"s":"2 (s)","x":-420,"y":0.955},{"s":"2 (s)","x":-400,"y":0.945},{"s":"2 (s)","x":-370,"y":0.94},{"s":"2 (s)","x":-340,"y":0.925},{"s":"2 (s)","x":-320,"y":0.894},{"s":"2 (s)","x":-300,"y":0.879},{"s":"2 (s)","x":-293,"y":0.794},{"s":"2 (s)","x":-287,"y":0.488},{"s":"2 (s)","x":-282,"y":0.304},{"s":"2 (s)","x":-275,"y":0.227},{"s":"2 (s)","x":-260,"y":0.181},{"s":"2 (s)","x":-240,"y":0.135},{"s":"2 (s)","x":-215,"y":0.081},{"s":"2 (s)","x":-190,"y":0.05},{"s":"2 (s)","x":-150,"y":0.035},{"s":"2 (s)","x":-100,"y":0.023},{"s":"2 (s)","x":0,"y":0.003},{"s":"2 (s)","x":100,"y":0.012},{"s":"2 (s)","x":130,"y":0.028},{"s":"2 (s)","x":143,"y":0.058},{"s":"2 (s)","x":150,"y":0.273},{"s":"2 (s)","x":157,"y":0.564},{"s":"2 (s)","x":163,"y":0.764},{"s":"2 (s)","x":170,"y":0.779},{"s":"2 (s)","x":200,"y":0.81},{"s":"2 (s)","x":225,"y":0.825},{"s":"2 (s)","x":250,"y":0.847},{"s":"2 (s)","x":265,"y":0.886},{"s":"2 (s)","x":280,"y":0.948},{"s":"2 (s)","x":295,"y":0.986},{"s":"2 (s)","x":310,"y":1.0},{"s":"2 (s)","x":400,"y":1.0}
]
},
"columns":2,
"bounds":"flush",
"spacing":{"row":18,"column":26},
"resolve":{"scale":{"color":"independent"},"legend":{"color":"independent"}},
"concat":[
{"width":300,"height":240,"resolve":{"axis":{"x":"independent","y":"independent"}},
"layer":[
{"data":{"name":"a"},"mark":{"type":"line","strokeWidth":1.8},
"encoding":{
"x":{"field":"x","type":"quantitative","scale":{"domain":[-500,400],"nice":false,"zero":false},"axis":{"orient":"bottom","values":[-400,-200,0,200,400],"tickSize":5,"labels":false,"title":null,"grid":false,"domainColor":"#222","tickColor":"#222"}},
"y":{"field":"y","type":"quantitative","scale":{"domain":[0,1.1],"nice":false,"zero":false},"axis":{"orient":"left","values":[0,0.2,0.4,0.6,0.8,1.0],"format":".1f","tickSize":5,"title":null,"grid":false,"labelFont":"Liberation Sans","labelFontSize":14,"labelColor":"#111","labelPadding":2,"domainColor":"#222","tickColor":"#222"}},
"color":{"field":"s","type":"nominal","scale":{"domain":["-150 (MHz)","-100 (MHz)","0 (MHz)","100 (MHz)"],"range":["#6b7b80","#1e50ff","#8a1ee6","#ff1a1a"]},"legend":{"title":null,"orient":"bottom-left","offset":2,"padding":0,"symbolType":"M-1,0H4.4","symbolSize":100,"symbolStrokeWidth":2.2,"labelFont":"Liberation Sans","labelFontSize":12,"labelColor":"#222","labelOffset":19,"rowPadding":0}}
}},
{"data":{"values":[{}]},"mark":{"type":"point","opacity":0},"encoding":{"x":{"datum":0,"type":"quantitative","axis":{"orient":"bottom","values":[-450,-350,-300,-250,-150,-100,-50,50,100,150,250,300,350],"tickSize":3,"labels":false,"domain":false,"title":null,"grid":false,"tickColor":"#222"}},"y":{"datum":0,"type":"quantitative","axis":{"orient":"left","values":[0.1,0.3,0.5,0.7,0.9],"tickSize":3,"labels":false,"domain":false,"title":null,"grid":false,"tickColor":"#222"}}}},
{"data":{"values":[{}]},"mark":{"type":"text","text":"7 K","font":"Lato","fontSize":21,"color":"#111","align":"center","baseline":"middle"},"encoding":{"x":{"datum":-50,"type":"quantitative","axis":null},"y":{"datum":0.995,"type":"quantitative","axis":null}}},
{"data":{"values":[{}]},"mark":{"type":"text","text":"(a)","font":"Lato","fontSize":21,"color":"#111","align":"center","baseline":"middle"},"encoding":{"x":{"datum":330,"type":"quantitative","axis":null},"y":{"datum":0.075,"type":"quantitative","axis":null}}},
{"data":{"values":[{}]},"mark":{"type":"text","text":"E","font":"Liberation Serif","fontStyle":"italic","fontSize":25,"color":"#111","angle":270,"align":"center","baseline":"alphabetic"},"encoding":{"x":{"datum":-580,"type":"quantitative","axis":null},"y":{"datum":0.5,"type":"quantitative","axis":null}}},
{"data":{"values":[{}]},"mark":{"type":"text","text":"excite","font":"Liberation Serif","fontStyle":"italic","fontSize":16,"color":"#111","angle":270,"align":"left","baseline":"alphabetic"},"encoding":{"x":{"datum":-570,"type":"quantitative","axis":null},"y":{"datum":0.56,"type":"quantitative","axis":null}}}
]},
{"width":300,"height":240,"resolve":{"axis":{"x":"independent","y":"independent"}},
"layer":[
{"data":{"name":"c"},"mark":{"type":"line","strokeWidth":1.8},
"encoding":{
"x":{"field":"x","type":"quantitative","scale":{"domain":[-500,400],"nice":false,"zero":false},"axis":{"orient":"bottom","values":[-400,-200,0,200,400],"tickSize":5,"labels":false,"title":null,"grid":false,"domainColor":"#222","tickColor":"#222"}},
"y":{"field":"y","type":"quantitative","scale":{"domain":[0,1.1],"nice":false,"zero":false},"axis":{"orient":"left","values":[0,0.2,0.4,0.6,0.8,1.0],"tickSize":5,"labels":false,"title":null,"grid":false,"domainColor":"#222","tickColor":"#222"}},
"color":{"field":"s","type":"nominal","scale":{"domain":["-200 (MHz)","-100 (MHz)","0 (MHz)","100 (MHz)"],"range":["#000000","#1e50ff","#8a1ee6","#f0203c"]},"legend":{"title":null,"orient":"bottom-left","offset":2,"padding":0,"symbolType":"M-1,0H4.4","symbolSize":100,"symbolStrokeWidth":2.2,"labelFont":"Liberation Sans","labelFontSize":12,"labelColor":"#222","labelOffset":19,"rowPadding":0}}
}},
{"data":{"values":[{}]},"mark":{"type":"point","opacity":0},"encoding":{"x":{"datum":0,"type":"quantitative","axis":{"orient":"bottom","values":[-450,-350,-300,-250,-150,-100,-50,50,100,150,250,300,350],"tickSize":3,"labels":false,"domain":false,"title":null,"grid":false,"tickColor":"#222"}},"y":{"datum":0,"type":"quantitative","axis":{"orient":"left","values":[0.1,0.3,0.5,0.7,0.9],"tickSize":3,"labels":false,"domain":false,"title":null,"grid":false,"tickColor":"#222"}}}},
{"data":{"values":[{}]},"mark":{"type":"text","text":"2.7 K","font":"Lato","fontSize":21,"color":"#111","align":"center","baseline":"middle"},"encoding":{"x":{"datum":-47,"type":"quantitative","axis":null},"y":{"datum":1.0,"type":"quantitative","axis":null}}},
{"data":{"values":[{}]},"mark":{"type":"text","text":"(c)","font":"Lato","fontSize":21,"color":"#111","align":"center","baseline":"middle"},"encoding":{"x":{"datum":328,"type":"quantitative","axis":null},"y":{"datum":0.067,"type":"quantitative","axis":null}}}
]},
{"width":300,"height":240,"resolve":{"axis":{"x":"independent","y":"independent"}},
"layer":[
{"data":{"name":"b"},"mark":{"type":"line","strokeWidth":1.8},
"encoding":{
"x":{"field":"x","type":"quantitative","scale":{"domain":[-500,400],"nice":false,"zero":false},"axis":{"orient":"bottom","values":[-400,-200,0,200,400],"tickSize":5,"labels":true,"title":null,"grid":false,"domainColor":"#222","tickColor":"#222","labelFont":"Liberation Sans","labelFontSize":14,"labelColor":"#111","labelPadding":0,"labelExpr":"replace(datum.label, '\u2212', '-')"}},
"y":{"field":"y","type":"quantitative","scale":{"domain":[0,1.1],"nice":false,"zero":false},"axis":{"orient":"left","values":[0,0.2,0.4,0.6,0.8,1.0],"format":".1f","tickSize":5,"title":null,"grid":false,"labelFont":"Liberation Sans","labelFontSize":14,"labelColor":"#111","labelPadding":2,"domainColor":"#222","tickColor":"#222"}},
"color":{"field":"s","type":"nominal","scale":{"domain":["1 (ms)","5 (ms)","10 (ms)","50 (ms)","100 (ms)","500 (ms)","5 (s)","20 (s)","120 (s)"],"range":["#000000","#1a1f9e","#2a62ff","#8a22d8","#ff1030","#e84ce8","#f0f0a0","#6f8090","#ff6a20"]},"legend":{"title":null,"orient":"bottom-left","offset":5,"padding":0,"symbolType":"M-1,0H4","symbolSize":100,"symbolStrokeWidth":2.2,"labelFont":"Liberation Sans","labelFontSize":12,"labelColor":"#222","labelOffset":20,"rowPadding":0}}
}},
{"data":{"values":[{}]},"mark":{"type":"point","opacity":0},"encoding":{"x":{"datum":0,"type":"quantitative","axis":{"orient":"bottom","values":[-450,-350,-300,-250,-150,-100,-50,50,100,150,250,300,350],"tickSize":3,"labels":false,"domain":false,"title":null,"grid":false,"tickColor":"#222"}},"y":{"datum":0,"type":"quantitative","axis":{"orient":"left","values":[0.1,0.3,0.5,0.7,0.9],"tickSize":3,"labels":false,"domain":false,"title":null,"grid":false,"tickColor":"#222"}}}},
{"data":{"values":[{}]},"mark":{"type":"text","text":"7 K","font":"Lato","fontSize":21,"color":"#111","align":"center","baseline":"middle"},"encoding":{"x":{"datum":-50,"type":"quantitative","axis":null},"y":{"datum":1.0,"type":"quantitative","axis":null}}},
{"data":{"values":[{}]},"mark":{"type":"text","text":"(b)","font":"Lato","fontSize":21,"color":"#111","align":"center","baseline":"middle"},"encoding":{"x":{"datum":330,"type":"quantitative","axis":null},"y":{"datum":0.087,"type":"quantitative","axis":null}}},
{"data":{"values":[{}]},"mark":{"type":"text","text":"E","font":"Liberation Serif","fontStyle":"italic","fontSize":25,"color":"#111","angle":270,"align":"center","baseline":"alphabetic"},"encoding":{"x":{"datum":-580,"type":"quantitative","axis":null},"y":{"datum":0.5,"type":"quantitative","axis":null}}},
{"data":{"values":[{}]},"mark":{"type":"text","text":"excite","font":"Liberation Serif","fontStyle":"italic","fontSize":16,"color":"#111","angle":270,"align":"left","baseline":"alphabetic"},"encoding":{"x":{"datum":-570,"type":"quantitative","axis":null},"y":{"datum":0.56,"type":"quantitative","axis":null}}},
{"data":{"values":[{}]},"mark":{"type":"text","text":"δν","font":"Liberation Serif","fontStyle":"italic","fontSize":27,"color":"#111","align":"left","baseline":"alphabetic"},"encoding":{"x":{"datum":-203,"type":"quantitative","axis":null},"y":{"datum":-0.158,"type":"quantitative","axis":null}}},
{"data":{"values":[{}]},"mark":{"type":"text","text":"excite","font":"Liberation Serif","fontStyle":"italic","fontSize":16,"color":"#111","align":"left","baseline":"alphabetic"},"encoding":{"x":{"datum":-106,"type":"quantitative","axis":null},"y":{"datum":-0.172,"type":"quantitative","axis":null}}},
{"data":{"values":[{}]},"mark":{"type":"text","text":"(MHz)","font":"Lato","fontSize":20,"color":"#111","align":"left","baseline":"alphabetic"},"encoding":{"x":{"datum":91,"type":"quantitative","axis":null},"y":{"datum":-0.163,"type":"quantitative","axis":null}}}
]},
{"width":300,"height":240,"resolve":{"axis":{"x":"independent","y":"independent"}},
"layer":[
{"data":{"name":"d"},"mark":{"type":"line","strokeWidth":1.8},
"encoding":{
"x":{"field":"x","type":"quantitative","scale":{"domain":[-500,400],"nice":false,"zero":false},"axis":{"orient":"bottom","values":[-400,-200,0,200,400],"tickSize":5,"labels":true,"title":null,"grid":false,"domainColor":"#222","tickColor":"#222","labelFont":"Liberation Sans","labelFontSize":14,"labelColor":"#111","labelPadding":0,"labelExpr":"replace(datum.label, '\u2212', '-')"}},
"y":{"field":"y","type":"quantitative","scale":{"domain":[0,1.1],"nice":false,"zero":false},"axis":{"orient":"left","values":[0,0.2,0.4,0.6,0.8,1.0],"tickSize":5,"labels":false,"title":null,"grid":false,"domainColor":"#222","tickColor":"#222"}},
"color":{"field":"s","type":"nominal","scale":{"domain":["1 (ms)","5 (ms)","10 (ms)","50 (ms)","100 (ms)","0.5 (s)","2 (s)"],"range":["#000000","#1a1f9e","#2a62ff","#8a22d8","#ff1030","#e858e8","#ff6a20"]},"legend":{"title":null,"orient":"bottom-left","offset":2,"padding":0,"symbolType":"M-1,0H4","symbolSize":100,"symbolStrokeWidth":2.2,"labelFont":"Liberation Sans","labelFontSize":12,"labelColor":"#222","labelOffset":19,"rowPadding":-1}}
}},
{"data":{"values":[{}]},"mark":{"type":"point","opacity":0},"encoding":{"x":{"datum":0,"type":"quantitative","axis":{"orient":"bottom","values":[-450,-350,-300,-250,-150,-100,-50,50,100,150,250,300,350],"tickSize":3,"labels":false,"domain":false,"title":null,"grid":false,"tickColor":"#222"}},"y":{"datum":0,"type":"quantitative","axis":{"orient":"left","values":[0.1,0.3,0.5,0.7,0.9],"tickSize":3,"labels":false,"domain":false,"title":null,"grid":false,"tickColor":"#222"}}}},
{"data":{"values":[{}]},"mark":{"type":"text","text":"2.7 K","font":"Lato","fontSize":21,"color":"#111","align":"center","baseline":"middle"},"encoding":{"x":{"datum":-47,"type":"quantitative","axis":null},"y":{"datum":1.0,"type":"quantitative","axis":null}}},
{"data":{"values":[{}]},"mark":{"type":"text","text":"(d)","font":"Lato","fontSize":21,"color":"#111","align":"center","baseline":"middle"},"encoding":{"x":{"datum":328,"type":"quantitative","axis":null},"y":{"datum":0.074,"type":"quantitative","axis":null}}},
{"data":{"values":[{}]},"mark":{"type":"text","text":"δν","font":"Liberation Serif","fontStyle":"italic","fontSize":27,"color":"#111","align":"left","baseline":"alphabetic"},"encoding":{"x":{"datum":-188,"type":"quantitative","axis":null},"y":{"datum":-0.158,"type":"quantitative","axis":null}}},
{"data":{"values":[{}]},"mark":{"type":"text","text":"excite","font":"Liberation Serif","fontStyle":"italic","fontSize":16,"color":"#111","align":"left","baseline":"alphabetic"},"encoding":{"x":{"datum":-91,"type":"quantitative","axis":null},"y":{"datum":-0.172,"type":"quantitative","axis":null}}},
{"data":{"values":[{}]},"mark":{"type":"text","text":"(MHz)","font":"Lato","fontSize":20,"color":"#111","align":"left","baseline":"alphabetic"},"encoding":{"x":{"datum":109,"type":"quantitative","axis":null},"y":{"datum":-0.163,"type":"quantitative","axis":null}}}
]}
]
}
